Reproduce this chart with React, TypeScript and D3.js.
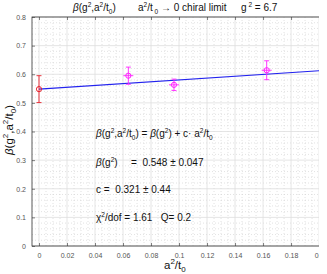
import React, { useEffect, useRef } from 'react';
import * as d3 from 'd3';

// chiral-limit point (red) and finite a^2/t0 points (magenta)
const limitX = [0];
const limitY = [0.548];
const limitErr = [0.047];

const ptsX = [0.0638, 0.0964, 0.1626];
const ptsY = [0.595, 0.563, 0.614];
const ptsErr = [0.03, 0.02, 0.033];

const fitB = 0.548;
const fitC = 0.321;
const fitRange = [0, 0.2];

const xTicks = [0, 0.02, 0.04, 0.06, 0.08, 0.1, 0.12, 0.14, 0.16, 0.18, 0.2];
const yTicks = [0, 0.1, 0.2, 0.3, 0.4, 0.5, 0.6, 0.7, 0.8];

const W = 327, H = 274;
const margin = { top: 17, right: 5, bottom: 28, left: 32 };
const FONT = '"Liberation Sans", Arial, sans-serif';
const NB = '\u00a0';

export default function App() {
  const ref = useRef<SVGSVGElement>(null);

  useEffect(() => {
    const svg = d3.select(ref.current);
    svg.selectAll('*').remove();
    const width = W - margin.left - margin.right;
    const height = H - margin.top - margin.bottom;

    const x = d3.scaleLinear().domain([-0.005, 0.2021]).range([0, width]);
    const y = d3.scaleLinear().domain([0, 0.8]).range([height, 0]);

    const g = svg.append('g').attr('transform', `translate(${margin.left},${margin.top})`);

    g.append('rect').attr('width', width).attr('height', height).attr('fill', 'white');

    // minor grid (dotted)
    const minorX = d3.range(0, 0.2001, 0.005).filter((v) => !xTicks.some((t) => Math.abs(t - v) < 1e-6));
    const minorY = d3.range(0, 0.8001, 0.02).filter((v) => !yTicks.some((t) => Math.abs(t - v) < 1e-6));
    g.append('g')
      .selectAll('line')
      .data(minorX)
      .enter()
      .append('line')
      .attr('x1', (d) => x(d)).attr('x2', (d) => x(d))
      .attr('y1', 0).attr('y2', height)
      .attr('stroke', '#cfcfcf').attr('stroke-width', 0.6).attr('stroke-dasharray', '1,2');
    g.append('g')
      .selectAll('line')
      .data(minorY)
      .enter()
      .append('line')
      .attr('y1', (d) => y(d)).attr('y2', (d) => y(d))
      .attr('x1', 0).attr('x2', width)
      .attr('stroke', '#cfcfcf').attr('stroke-width', 0.6).attr('stroke-dasharray', '1,2');

    // major grid
    g.append('g')
      .selectAll('line')
      .data(xTicks)
      .enter()
      .append('line')
      .attr('x1', (d) => x(d)).attr('x2', (d) => x(d))
      .attr('y1', 0).attr('y2', height)
      .attr('stroke', '#dedede').attr('stroke-width', 0.8);
    g.append('g')
      .selectAll('line')
      .data(yTicks)
      .enter()
      .append('line')
      .attr('y1', (d) => y(d)).attr('y2', (d) => y(d))
      .attr('x1', 0).attr('x2', width)
      .attr('stroke', '#dedede').attr('stroke-width', 0.8);

    // axes box with inward ticks
    const axStyle = (sel: any) => {
      sel.select('.domain').remove();
      sel.selectAll('line').attr('stroke', '#333').attr('stroke-width', 0.6);
      sel.selectAll('text').attr('fill', '#555').style('font-family', FONT).style('font-size', '7px');
    };
    g.append('g').attr('transform', `translate(0,${height})`)
      .call(d3.axisBottom(x).tickValues(xTicks).tickSize(-3).tickPadding(7).tickFormat((d: any) => String(+d)))
      .call(axStyle);
    g.append('g')
      .call(d3.axisTop(x).tickValues(xTicks).tickSize(-3).tickFormat(() => ''))
      .call(axStyle);
    g.append('g')
      .call(d3.axisLeft(y).tickValues(yTicks).tickSize(-3).tickPadding(6).tickFormat((d: any) => String(+d)))
      .call(axStyle);
    g.append('g').attr('transform', `translate(${width},0)`)
      .call(d3.axisRight(y).tickValues(yTicks).tickSize(-3).tickFormat(() => ''))
      .call(axStyle);
    g.append('rect').attr('width', width).attr('height', height)
      .attr('fill', 'none').attr('stroke', '#333').attr('stroke-width', 0.8);

    // fit line
    const line = d3.line<number>().x((d) => x(d)).y((d) => y(fitB + fitC * d));
    g.append('path').datum(fitRange).attr('d', line)
      .attr('fill', 'none').attr('stroke', '#2222ee').attr('stroke-width', 1.1);

    // error bars + markers
    const drawPoints = (xs: number[], ys: number[], es: number[], color: string, hbar: boolean) => {
      xs.forEach((xv, i) => {
        const cx = x(xv), cy = y(ys[i]);
        const y0 = y(ys[i] - es[i]), y1 = y(ys[i] + es[i]);
        g.append('line').attr('x1', cx).attr('x2', cx).attr('y1', y0).attr('y2', y1)
          .attr('stroke', color).attr('stroke-width', 0.9);
        [y0, y1].forEach((yy) =>
          g.append('line').attr('x1', cx - 2.5).attr('x2', cx + 2.5).attr('y1', yy).attr('y2', yy)
            .attr('stroke', color).attr('stroke-width', 0.9));
        if (hbar) {
          g.append('line').attr('x1', cx - 5).attr('x2', cx + 5).attr('y1', cy).attr('y2', cy)
            .attr('stroke', color).attr('stroke-width', 0.9);
        }
        g.append('circle').attr('cx', cx).attr('cy', cy).attr('r', 2.6)
          .attr('fill', 'none').attr('stroke', color).attr('stroke-width', 1);
      });
    };
    drawPoints(limitX, limitY, limitErr, '#e8202a', false);
    drawPoints(ptsX, ptsY, ptsErr, '#ff22ff', true);
  }, []);

  const t = { fontFamily: FONT, fill: '#111' } as React.CSSProperties;
  const sub = { fontSize: '6.5px' } as React.CSSProperties;

  return (
    <div style={{ margin: -8 }}>
      <svg ref={ref} width={W} height={H} style={{ display: 'block' }} />
      <svg width={W} height={H} style={{ position: 'absolute', left: 0, top: 0, pointerEvents: 'none' }}>
        <g style={t} fontSize={10}>
          {/* title */}
          <text x={73} y={11}>
            <tspan fontStyle="italic">β</tspan>(g<tspan dy={-4} style={sub}>2</tspan><tspan dy={4}>,a</tspan>
            <tspan dy={-4} style={sub}>2</tspan><tspan dy={4}>/t</tspan><tspan dy={3} style={sub}>0</tspan>
            <tspan dy={-3}>)</tspan>
          </text>
          <text x={138} y={11}>
            a<tspan dy={-4} style={sub}>2</tspan><tspan dy={4}>/t</tspan><tspan dy={3} style={sub}>{NB}0</tspan>
            <tspan dy={-3}>{NB}→ 0 chiral limit</tspan>
          </text>
          <text x={241} y={11}>
            g<tspan dy={-4} style={sub}>{NB}2</tspan><tspan dy={4}>{NB}= 6.7</tspan>
          </text>

          {/* annotations */}
          <text x={96} y={137}>
            <tspan fontStyle="italic">β</tspan>(g<tspan dy={-4} style={sub}>2</tspan><tspan dy={4}>,a</tspan>
            <tspan dy={-4} style={sub}>2</tspan><tspan dy={4}>/t</tspan><tspan dy={3} style={sub}>0</tspan>
            <tspan dy={-3}>{') = '}</tspan><tspan fontStyle="italic">β</tspan>(g<tspan dy={-4} style={sub}>2</tspan>
            <tspan dy={4}>{') + c· a'}</tspan><tspan dy={-4} style={sub}>2</tspan><tspan dy={4}>/t</tspan>
            <tspan dy={3} style={sub}>0</tspan>
          </text>
          <text x={96} y={166}>
            <tspan fontStyle="italic">β</tspan>(g<tspan dy={-4} style={sub}>2</tspan><tspan dy={4}>)</tspan>
          </text>
          <text x={131} y={166}>{`=${NB}${NB}0.548 ± 0.047`}</text>
          <text x={96} y={193}>{`c =${NB}${NB}0.321 ± 0.44`}</text>
          <text x={96} y={221}>
            χ<tspan dy={-4} style={sub}>2</tspan><tspan dy={4}>{`/dof = 1.61${NB}${NB}${NB}Q= 0.2`}</tspan>
          </text>

          {/* axis labels */}
          <text x={164} y={269} fontSize={11.5}>
            a<tspan dy={-5} fontSize={8}>2</tspan><tspan dy={5}>/t</tspan><tspan dy={3} fontSize={8}>0</tspan>
          </text>
          <text transform="translate(13,155) rotate(-90)" fontSize={11.5}>
            <tspan fontStyle="italic">β</tspan>(g<tspan dy={-5} fontSize={8}>2</tspan><tspan dy={5}>,a</tspan>
            <tspan dy={-5} fontSize={8}>2</tspan><tspan dy={5}>/t</tspan><tspan dy={3} fontSize={8}>0</tspan>
            <tspan dy={-3}>)</tspan>
          </text>
        </g>
      </svg>
    </div>
  );
}
